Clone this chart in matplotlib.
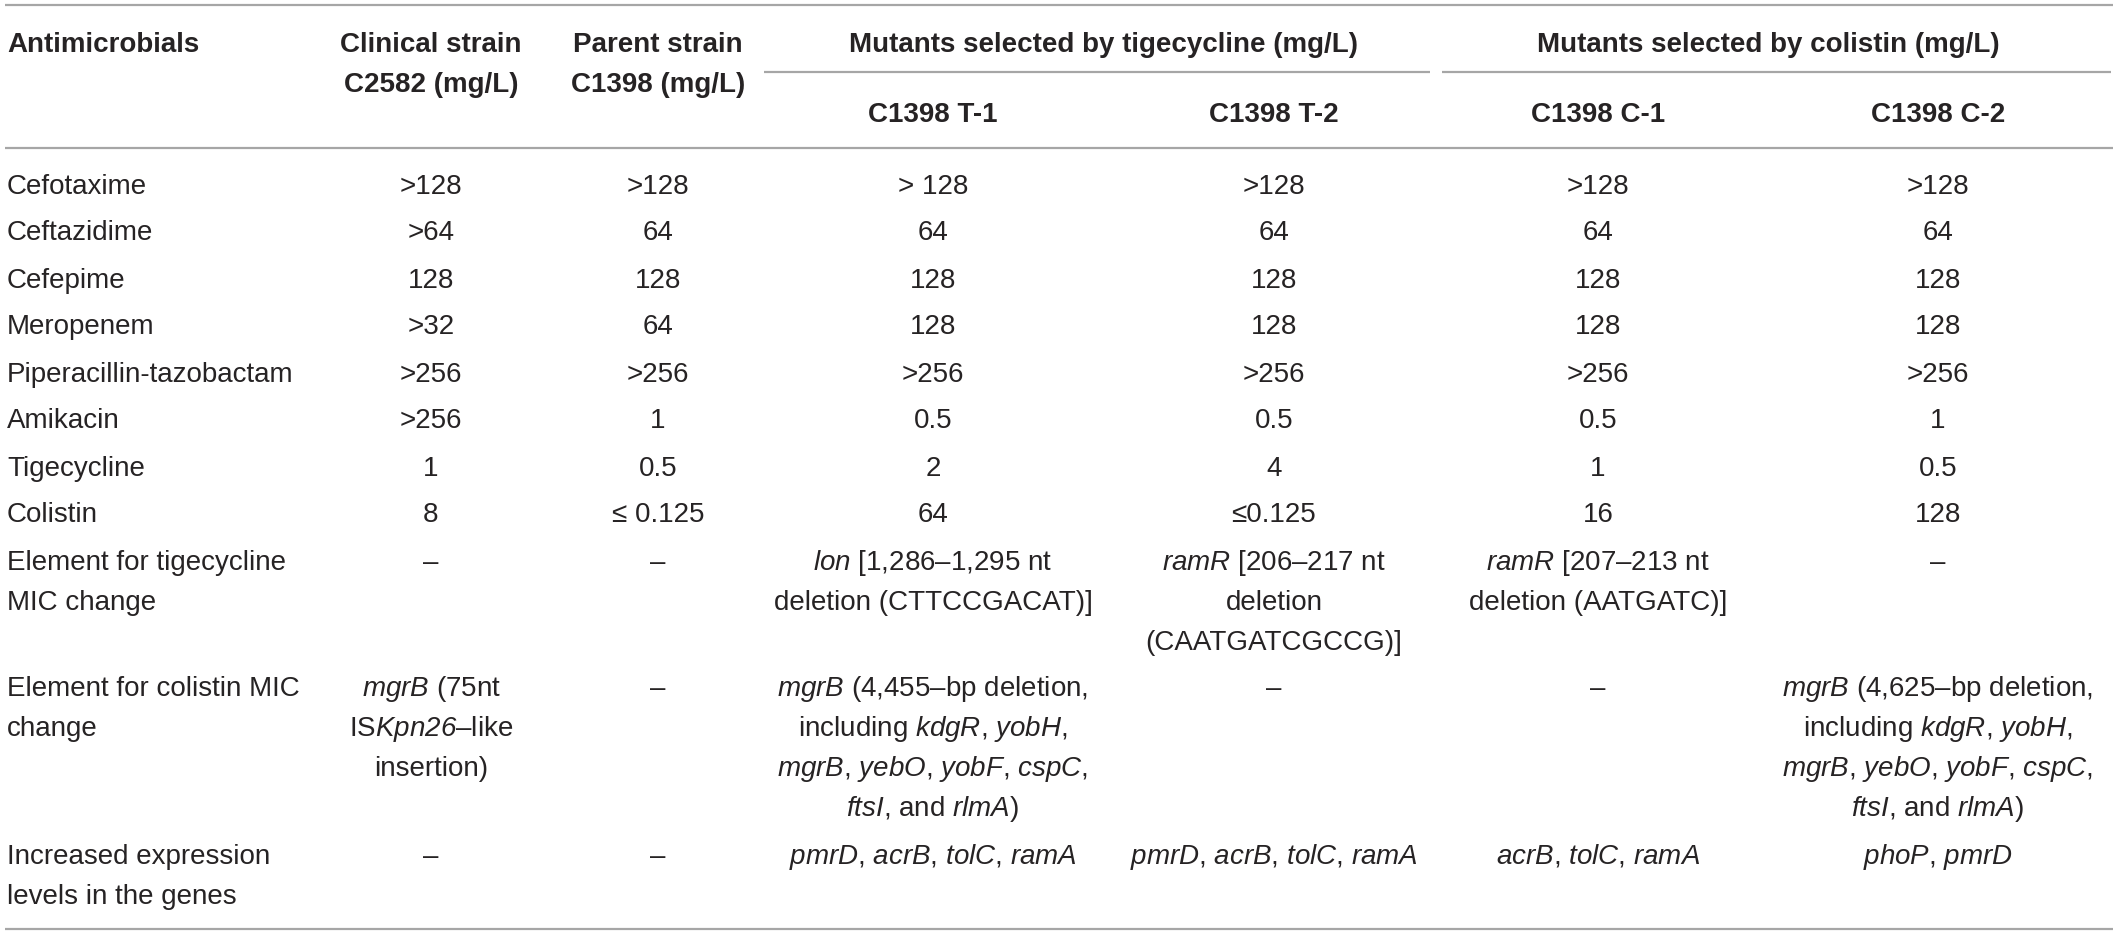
import matplotlib
matplotlib.use('Agg')
import matplotlib.pyplot as plt


def it(s):
    # italic gene name: mathtext rm is mapped to the italic face below,
    # so digits come out slanted too
    return '$\\mathrm{' + s + '}$'


# table content
antimicrobials = ['Cefotaxime', 'Ceftazidime', 'Cefepime', 'Meropenem',
                  'Piperacillin-tazobactam', 'Amikacin', 'Tigecycline', 'Colistin']
clinical_c2582 = ['>128', '>64', '128', '>32', '>256', '>256', '1', '8']
parent_c1398 = ['>128', '64', '128', '64', '>256', '1', '0.5', '\u2264 0.125']
mutant_t1 = ['> 128', '64', '128', '128', '>256', '0.5', '2', '64']
mutant_t2 = ['>128', '64', '128', '128', '>256', '0.5', '4', '\u22640.125']
mutant_c1 = ['>128', '64', '128', '128', '>256', '0.5', '1', '16']
mutant_c2 = ['>128', '64', '128', '128', '>256', '1', '0.5', '128']

# text rows, one list of lines per cell
element_labels = [['Element for tigecycline', 'MIC change'],
                  ['Element for colistin MIC', 'change'],
                  ['Increased expression', 'levels in the genes']]
dash = '\u2013'
element_tig = [[dash], [dash],
               [it('lon') + ' [1,286\u20131,295 nt', 'deletion (CTTCCGACAT)]'],
               [it('ramR') + ' [206\u2013217 nt', 'deletion', '(CAATGATCGCCG)]'],
               [it('ramR') + ' [207\u2013213 nt', 'deletion (AATGATC)]'],
               [dash]]


def deletion(bp):
    return [it('mgrB') + ' (' + bp + '\u2013bp deletion,',
            'including ' + it('kdgR') + ', ' + it('yobH') + ',',
            it('mgrB') + ', ' + it('yebO') + ', ' + it('yobF') + ', ' + it('cspC') + ',',
            it('ftsI') + ', and ' + it('rlmA') + ')']


element_col = [[it('mgrB') + ' (75nt', 'IS' + it('Kpn26') + '\u2013like', 'insertion)'],
               [dash],
               deletion('4,455'),
               [dash], [dash],
               deletion('4,625')]
expression = [[dash], [dash],
              [', '.join(it(g) for g in ['pmrD', 'acrB', 'tolC', 'ramA'])],
              [', '.join(it(g) for g in ['pmrD', 'acrB', 'tolC', 'ramA'])],
              [', '.join(it(g) for g in ['acrB', 'tolC', 'ramA'])],
              [', '.join(it(g) for g in ['phoP', 'pmrD'])]]

col_heads = [['Clinical strain', 'C2582 (mg/L)'], ['Parent strain', 'C1398 (mg/L)']]
group_heads = ['Mutants selected by tigecycline (mg/L)', 'Mutants selected by colistin (mg/L)']
sub_heads = ['C1398 T-1', 'C1398 T-2', 'C1398 C-1', 'C1398 C-2']

# fonts
plt.rcParams['font.family'] = ['Liberation Sans', 'DejaVu Sans']
plt.rcParams['mathtext.fontset'] = 'custom'
plt.rcParams['mathtext.rm'] = 'Liberation Sans:italic'
plt.rcParams['mathtext.it'] = 'Liberation Sans:italic'
plt.rcParams['mathtext.bf'] = 'Liberation Sans:bold'

W, H = 2118, 935
fig = plt.figure(figsize=(W / 100, H / 100), dpi=100)
ax = fig.add_axes([0, 0, 1, 1])
ax.set_xlim(0, W)
ax.set_ylim(H, 0)
ax.axis('off')

FS = 20
TXT = '#262324'
RULE = '#a6a6a6'
OFF = 9.5          # centre of caps -> baseline
PITCH = 40         # line pitch inside a cell
GAP = 47           # row to row

col_x = [431, 658, 933, 1274, 1598, 1938]
left_x = 7


def put(x, y, s, ha='center', bold=False):
    ax.text(x, y + OFF, s, ha=ha, va='baseline', fontsize=FS, color=TXT,
            fontweight='bold' if bold else 'normal')


def rule(y, x0=5, x1=2113):
    ax.plot([x0, x1], [y, y], color=RULE, lw=1.6, solid_capstyle='butt')


# rules
rule(5)
rule(148)
rule(72, 764, 1430)
rule(72, 1442, 2111)
rule(929)

# header
put(left_x, 42, 'Antimicrobials', ha='left', bold=True)
for x, lines in zip(col_x[:2], col_heads):
    put(x, 42, lines[0], bold=True)
    put(x, 82, lines[1], bold=True)
put((col_x[2] + col_x[3]) / 2, 43, group_heads[0], bold=True)
put((col_x[4] + col_x[5]) / 2, 43, group_heads[1], bold=True)
for x, s in zip(col_x[2:], sub_heads):
    put(x, 113, s, bold=True)

# numeric rows
y = 184
columns = [clinical_c2582, parent_c1398, mutant_t1, mutant_t2, mutant_c1, mutant_c2]
for i, name in enumerate(antimicrobials):
    put(left_x, y, name, ha='left')
    for x, col in zip(col_x, columns):
        put(x, y, col[i])
    y += GAP

# text rows
for label, cells in zip(element_labels, [element_tig, element_col, expression]):
    nlines = max([len(label)] + [len(c) for c in cells])
    for k, s in enumerate(label):
        put(left_x, y + k * PITCH, s, ha='left')
    for x, cell in zip(col_x, cells):
        for k, s in enumerate(cell):
            put(x, y + k * PITCH, s)
    y += (nlines - 1) * PITCH + GAP

fig.savefig('out.png', dpi=100)
